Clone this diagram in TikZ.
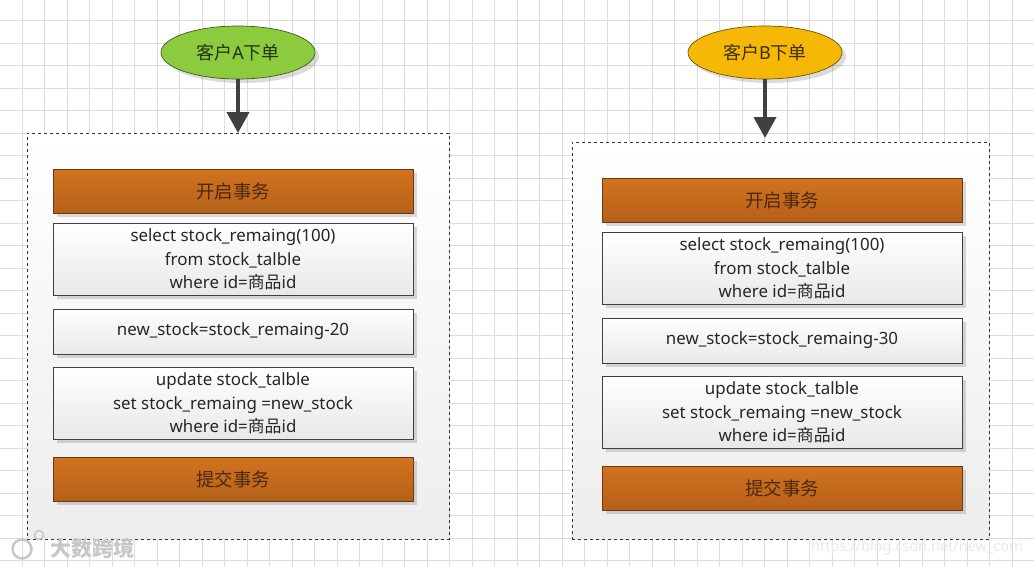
\documentclass[tikz,border=0pt]{standalone}
\usepackage{fontspec}
\setmainfont{Noto Sans}
\newfontfamily\cjk{Noto Sans CJK SC}
\usetikzlibrary{arrows.meta,shapes.geometric,shadows}
\definecolor{gridgray}{HTML}{DCDCDC}
\definecolor{orangetop}{HTML}{D2731E}
\definecolor{orangebot}{HTML}{B4601A}
\definecolor{orangeline}{HTML}{6B3A12}
\definecolor{arrowgray}{HTML}{404040}
\definecolor{custa}{HTML}{8CCB3E}
\definecolor{custb}{HTML}{F5B806}
\begin{document}
\begin{tikzpicture}[
  x=1pt,y=-1pt,
  softshadow/.style={drop shadow={shadow xshift=4pt,shadow yshift=-4pt,fill=black,opacity=0.14}},
  panel/.style={draw=black!80,dashed,line width=0.6pt,top color=white,bottom color=black!7,minimum width=#1,inner sep=0pt},
  customer/.style={ellipse,line width=0.7pt,minimum width=154pt,minimum height=53pt,inner sep=0pt,softshadow,font=\fontsize{18}{22}\selectfont},
  orangebox/.style={draw=orangeline,line width=0.8pt,top color=orangetop,bottom color=orangebot,minimum width=360pt,minimum height=44pt,inner sep=0pt,softshadow,text=orangeline!70!black,font=\fontsize{18.5}{22}\selectfont\cjk},
  stepbox/.style={draw=black!75,line width=0.8pt,top color=white,bottom color=black!9,minimum width=360pt,minimum height=#1,inner sep=0pt,softshadow,align=center,text=black!85,font=\fontsize{16.9}{23.8}\selectfont},
  flow/.style={draw=arrowgray,line width=4pt,-{Triangle[length=21pt,width=22pt]}},
  markup/.style={text=black!#1,inner sep=0pt}
]
\useasboundingbox (0,0) rectangle (1034,566);

% grid
\foreach \k in {0,...,45}{
  \draw[gridgray,line width=0.8pt] (22+22.5*\k,0) -- (22+22.5*\k,566);
}
\foreach \k in {0,...,24}{
  \draw[gridgray,line width=0.8pt] (0,20.7+22.5*\k) -- (1034,20.7+22.5*\k);
}

\foreach \p/\ex/\ty/\px/\pw/\py/\ph/\bx/\dy/\who/\col/\num in {
  A/238/133/238/422/336/406/233/0/A/custa/20,
  B/765/138/780.5/417/340.5/397/782/9/B/custb/30}{
  \node[panel=\pw pt,minimum height=\ph pt] (panel\p) at (\px,\py) {};
  \node[customer,draw=\col!45!black,fill=\col,text=\col!25!black] (ell\p) at (\ex,52.5) {{\cjk 客户}\who{\cjk 下单}};
  \coordinate (tip\p) at (\ex,\ty);
  \draw[flow] (ell\p) -- (tip\p);
  \node[orangebox] (open\p) at (\bx,191+\dy) {开启事务};
  \node[stepbox=72pt] (read\p) at (\bx,259.3+\dy) {select stock\_remaing(100)\\from stock\_talble\\where id={\cjk 商品}id};
  \node[stepbox=45pt] (calc\p) at (\bx,331.5+\dy) {new\_stock=stock\_remaing-\num};
  \node[stepbox=72pt] (write\p) at (\bx,403.3+\dy) {update stock\_talble\\set stock\_remaing =new\_stock\\where id={\cjk 商品}id};
  \node[orangebox] (commit\p) at (\bx,479+\dy) {提交事务};
}

% watermarks
\node[markup=22,font=\fontsize{21}{24}\selectfont\cjk\bfseries] (markcn) at (92,548) {大数跨境};
\node[circle,draw=black!22,line width=2.5pt,minimum size=19pt,inner sep=0pt] (markface) at (22,549) {};
\node[circle,draw=black!22,line width=1.5pt,minimum size=9pt,inner sep=0pt] (markdot) at (39,535) {};
\node[markup=9,font=\fontsize{14.5}{18}\selectfont] (markurl) at (917,548) {https://blog.csdn.net/new\_com};

\end{tikzpicture}
\end{document}
